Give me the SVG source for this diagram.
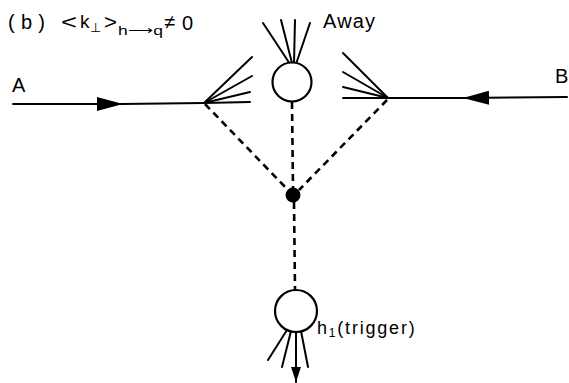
<svg xmlns="http://www.w3.org/2000/svg" width="569" height="383" viewBox="0 0 569 383">
<style>
.ln{stroke:#000;stroke-width:2;fill:none;stroke-linecap:round}
.jet{stroke:#000;stroke-width:2;fill:none;stroke-linecap:round}
.dash{stroke:#000;stroke-width:2.6;fill:none;stroke-dasharray:7 5}
.blob{fill:#fff;stroke:#000;stroke-width:2.2}
.t{font-family:"Liberation Sans",Arial,sans-serif;fill:#000}
</style>
<defs>
<marker id="arr" markerUnits="userSpaceOnUse" viewBox="0 0 26 14" markerWidth="26" markerHeight="14" refX="26" refY="7" orient="auto">
<path d="M0,0 L26,7 L0,14 z" fill="#000"/>
</marker>
<marker id="arrS" markerUnits="userSpaceOnUse" viewBox="0 0 15 10" markerWidth="15" markerHeight="10" refX="15" refY="5" orient="auto">
<path d="M0,0 L15,5 L0,10 z" fill="#000"/>
</marker>
</defs>

<g id="title">
<text class="t" x="8" y="29" font-size="20" textLength="37" lengthAdjust="spacing">(b)</text>
<text class="t" x="61" y="29" font-size="20" textLength="16" lengthAdjust="spacingAndGlyphs">&lt;</text>
<text class="t" x="80" y="28" font-size="19">k</text>
<text class="t" x="90" y="32" font-size="13">⊥</text>
<text class="t" x="104" y="29" font-size="20" textLength="13" lengthAdjust="spacingAndGlyphs">&gt;</text>
<text class="t" x="118" y="35" font-size="13" font-family="DejaVu Sans, sans-serif" textLength="45" lengthAdjust="spacingAndGlyphs">h⟶q</text>
<text class="t" x="164" y="29" font-size="20">≠</text>
<text class="t" x="182" y="30" font-size="20">0</text>
</g>

<g id="connectors">
<line class="ln" x1="13" y1="104" x2="123" y2="104" marker-end="url(#arr)"/>
<line class="ln" x1="121" y1="104" x2="204" y2="103"/>
<line class="ln" x1="567" y1="97" x2="463" y2="98" marker-end="url(#arr)"/>
<line class="ln" x1="466" y1="98" x2="388" y2="98"/>
<line class="dash" x1="205" y1="104" x2="288" y2="190"/>
<line class="dash" x1="387" y1="100" x2="299" y2="190"/>
<line class="dash" x1="292" y1="102" x2="293" y2="188"/>
<line class="dash" x1="294" y1="202" x2="295" y2="290"/>
</g>

<g id="label-A"><text class="t" x="12" y="92" font-size="20">A</text></g>
<g id="label-B"><text class="t" x="555" y="83" font-size="20">B</text></g>

<g id="left-vertex">
<line class="jet" x1="204" y1="103" x2="252" y2="57"/>
<line class="jet" x1="204" y1="103" x2="252" y2="76"/>
<line class="jet" x1="204" y1="103" x2="250" y2="92"/>
<line class="jet" x1="204" y1="103" x2="250" y2="102"/>
</g>

<g id="right-vertex">
<line class="jet" x1="388" y1="98" x2="343" y2="53"/>
<line class="jet" x1="388" y1="98" x2="343" y2="72"/>
<line class="jet" x1="388" y1="98" x2="343" y2="87"/>
<line class="jet" x1="388" y1="98" x2="343" y2="98"/>
</g>

<g id="away">
<line class="jet" x1="290" y1="64" x2="263" y2="23"/>
<line class="jet" x1="292" y1="63" x2="281" y2="20"/>
<line class="jet" x1="294" y1="63" x2="295" y2="20"/>
<line class="jet" x1="296" y1="64" x2="310" y2="23"/>
<circle class="blob" cx="292" cy="82" r="19.5"/>
<text class="t" x="323" y="28" font-size="20" textLength="52" lengthAdjust="spacing">Away</text>
</g>

<g id="vertex-dot"><circle cx="293" cy="195" r="7.5" fill="#000"/></g>

<g id="trigger">
<line class="jet" x1="287" y1="330" x2="268" y2="360"/>
<line class="jet" x1="291" y1="331" x2="282" y2="367"/>
<line class="jet" x1="296" y1="332" x2="296" y2="382" marker-end="url(#arrS)"/>
<line class="jet" x1="301" y1="331" x2="308" y2="367"/>
<circle class="blob" cx="296" cy="311" r="21"/>
<text class="t" x="317" y="334" font-size="18" letter-spacing="1.8">h<tspan font-size="12" dy="3">1</tspan><tspan dy="-3">(trigger)</tspan></text>
</g>
</svg>
